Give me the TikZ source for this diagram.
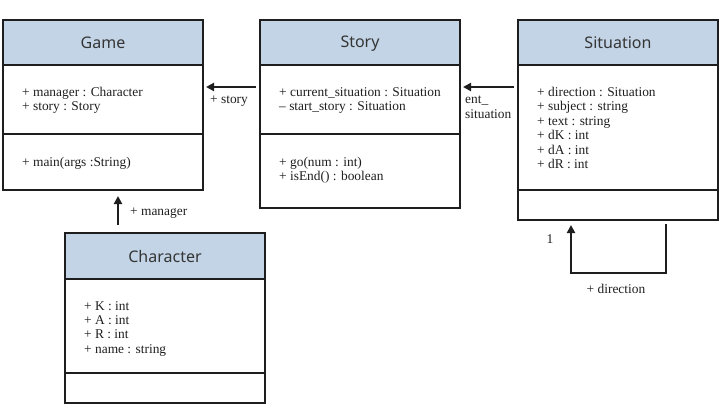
\documentclass[tikz,border=0pt]{standalone}
\usepackage{fontspec}
\setmainfont{Liberation Serif}
\newfontfamily\titlefont{Noto Sans}
\usetikzlibrary{arrows.meta,calc}
\definecolor{hdr}{HTML}{C2D4E5}
\definecolor{ink}{HTML}{1E1E1E}
\begin{document}
\begin{tikzpicture}[x=1pt,y=-1pt,
  box/.style={draw=ink, line width=2pt, minimum width=200pt, inner sep=0pt, outer sep=0pt, anchor=north west},
  head/.style={box, fill=hdr},
  ttl/.style={font=\titlefont\fontsize{16}{19}\selectfont, text=ink!90},
  txt/.style={font=\fontsize{13.4}{14.4}\selectfont, align=left, inner sep=0pt, anchor=north west, text=ink},
  lbl/.style={font=\fontsize{13.4}{14.4}\selectfont, inner sep=0pt, text=ink},
  arr/.style={draw=ink, line width=2pt, -{Triangle[length=8pt,width=8pt]}}]
\useasboundingbox (0,0) rectangle (720,417);
% Game
\node[head, minimum height=45pt] (gameH) at (3,20) {};
\node[box, minimum height=69pt] (gameA) at (3,65) {};
\node[box, minimum height=56pt] (gameM) at (3,134) {};
\node[ttl] (gameT) at (gameH.center) {Game};
\node[txt] (gameAt) at (22,87) {+ manager : Character\\+ story : Story};
\node[txt] (gameMt) at (22,157) {+ main(args :String)};
% Story
\node[head, minimum height=45pt] (storyH) at (260,20) {};
\node[box, minimum height=69pt] (storyA) at (260,65) {};
\node[box, minimum height=74pt] (storyM) at (260,134) {};
\node[ttl] (storyT) at ($(storyH.center)+(0,1.5)$) {Story};
\node[txt] (storyAt) at (279,87) {+ current\_situation : Situation\\-- start\_story : Situation};
\node[txt] (storyMt) at (279,157) {+ go(num : int)\\+ isEnd() : boolean};
% Situation
\node[head, minimum height=45pt] (sitH) at (518,20) {};
\node[box, minimum height=125pt] (sitA) at (518,65) {};
\node[box, minimum height=30pt] (sitM) at (518,190) {};
\node[ttl] (sitT) at (sitH.center) {Situation};
\node[txt] (sitAt) at (537,87) {+ direction : Situation\\+ subject : string\\+ text : string\\+ dK : int\\+ dA : int\\+ dR : int};
% Character
\node[head, minimum height=46pt] (charH) at (65,233) {};
\node[box, minimum height=94pt] (charA) at (65,279) {};
\node[box, minimum height=30pt] (charM) at (65,373) {};
\node[ttl] (charT) at (charH.center) {Character};
\node[txt] (charAt) at (84,301) {+ K : int\\+ A : int\\+ R : int\\+ name : string};
% connectors
\draw[arr] ($(storyA.north west)+(-4,22)$) -- ($(gameA.north east)+(3,22)$);
\node[lbl, anchor=west] (l1) at (210,101) {+ story};
\draw[arr] ($(sitA.north west)+(-4,22)$) -- ($(storyA.north east)+(3,22)$);
\node[txt] (l2) at (465,96) {ent\_\\situation};
\draw[arr] ($(charH.north)+(-47,-8)$) -- ($(gameM.south)+(15,6)$);
\node[lbl, anchor=west] (l3) at (130,213) {+ manager};
\draw[arr] ($(sitM.south east)+(-52,4)$) -- ++(0,49) -| ($(sitM.south west)+(53,5)$);
\node[lbl] (l4) at (550,239) {1};
\node[lbl] (l5) at (616,289) {+ direction};
\end{tikzpicture}
\end{document}
